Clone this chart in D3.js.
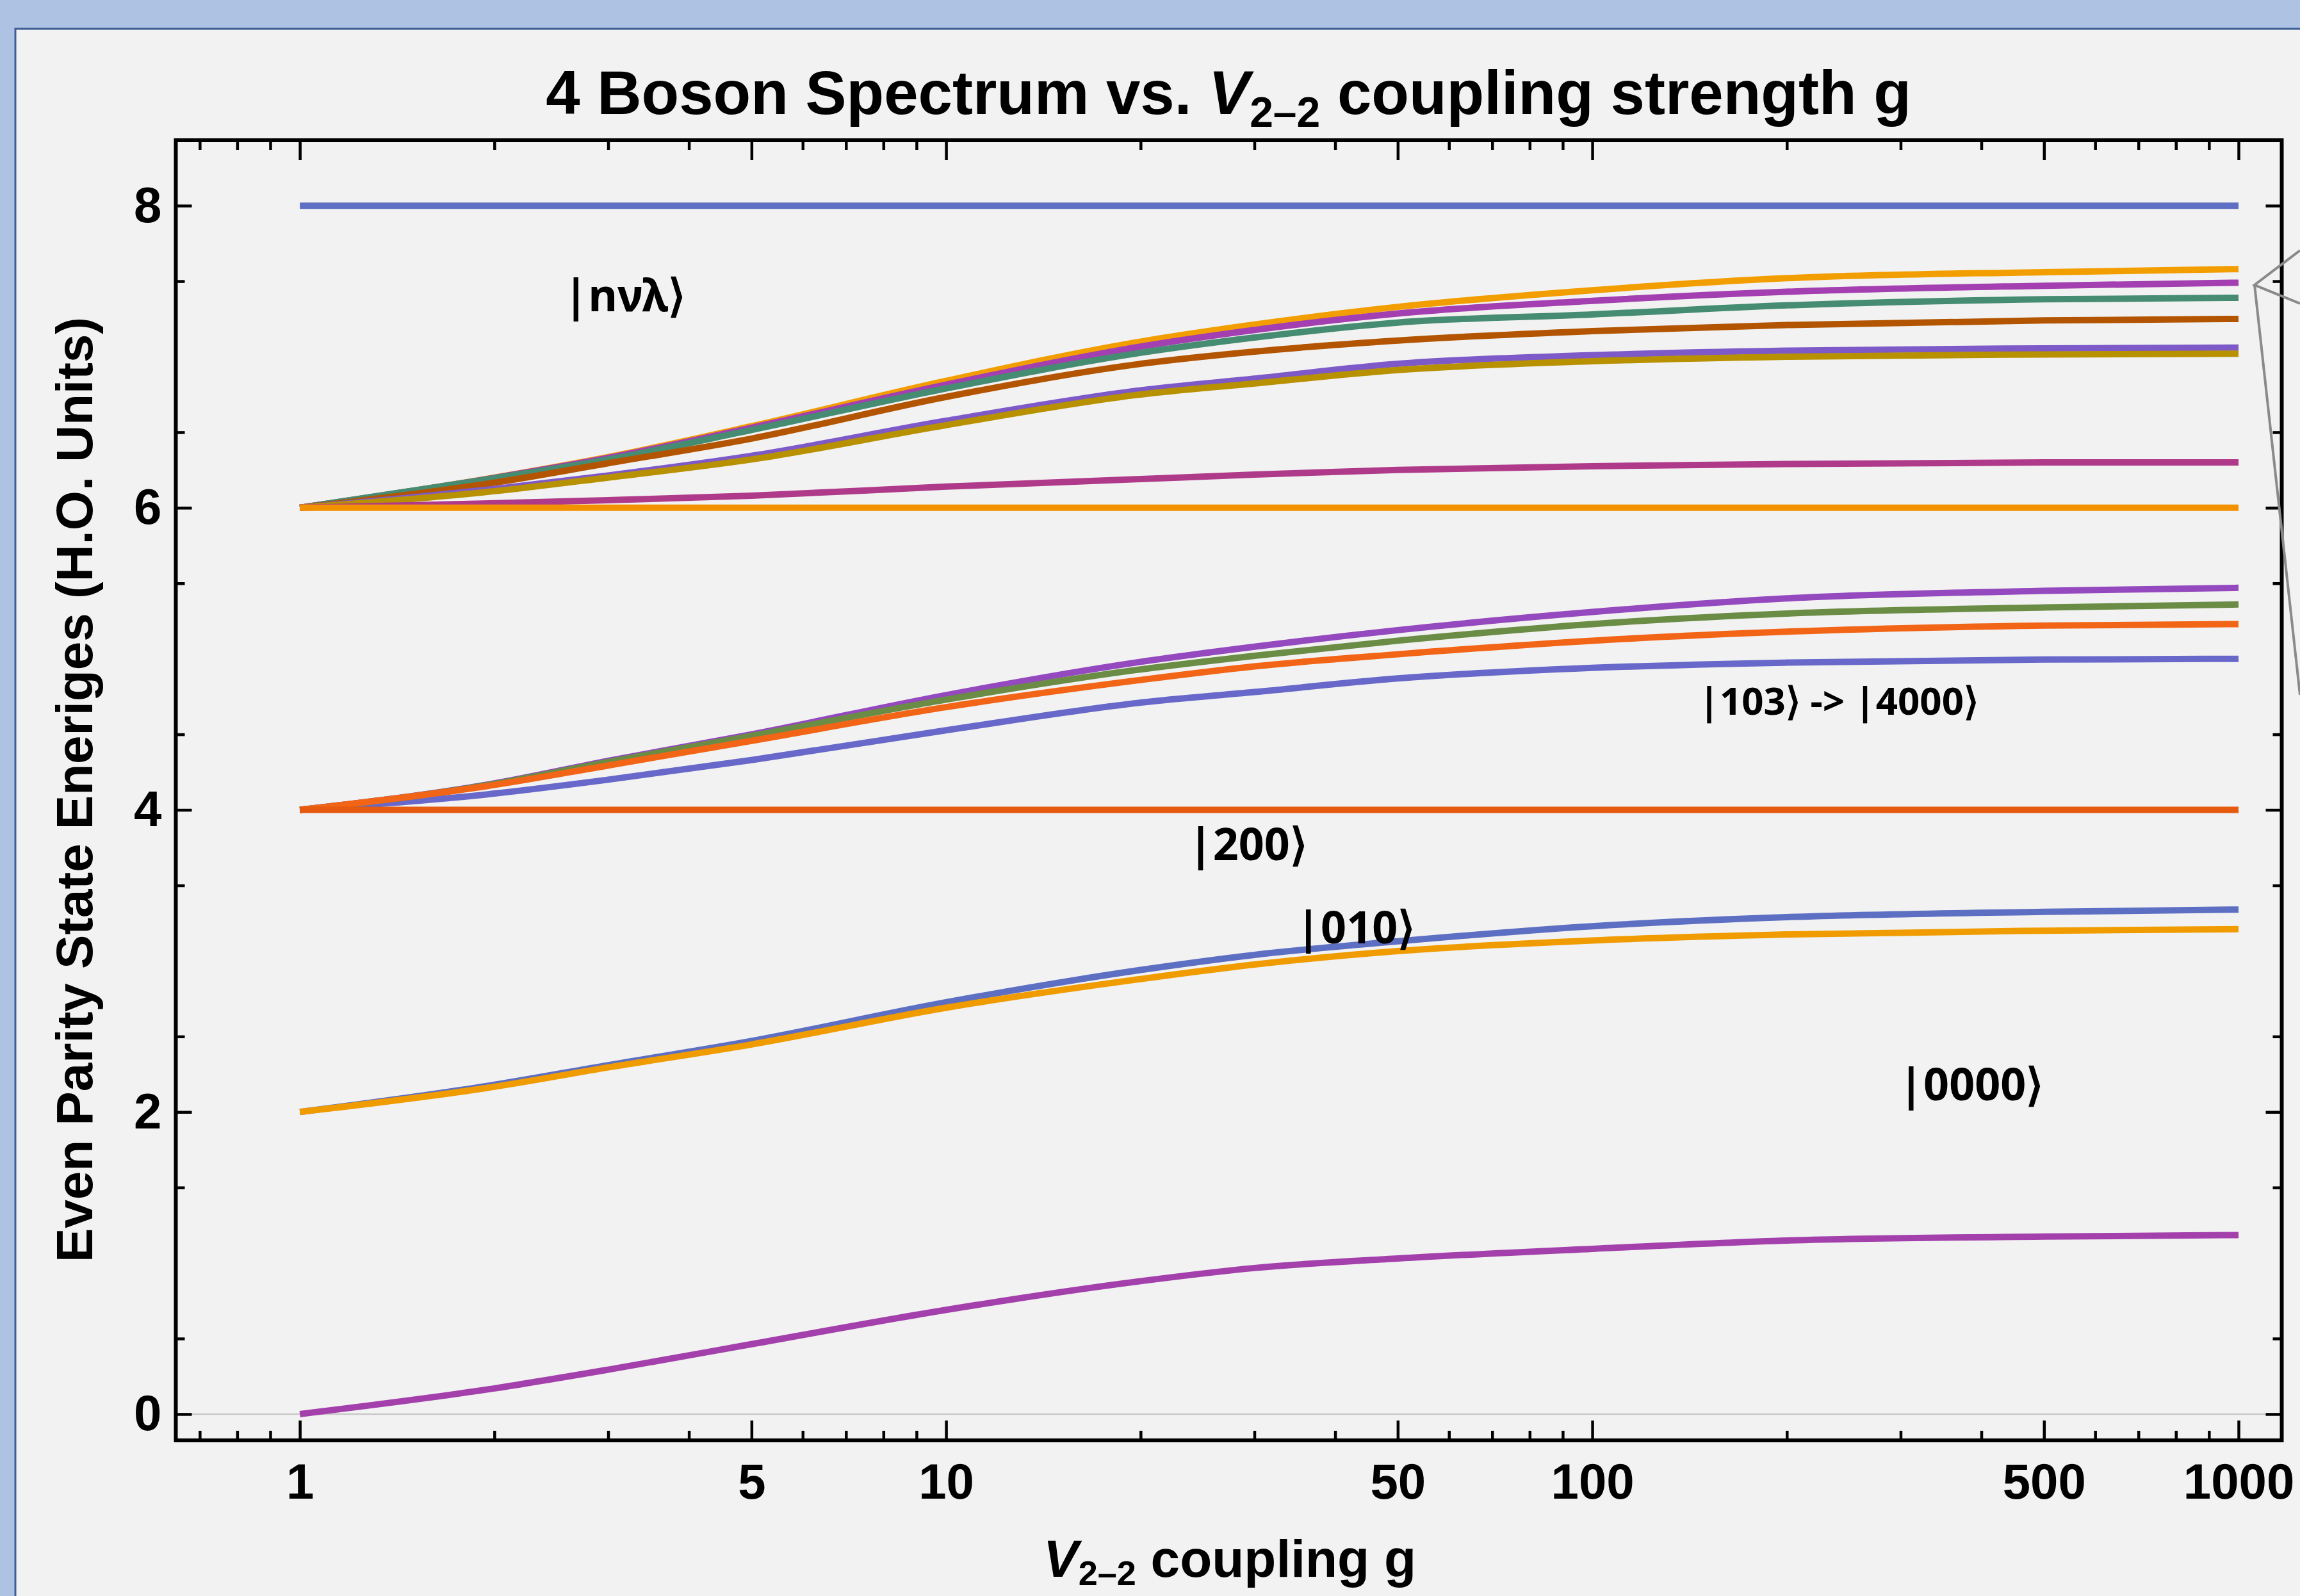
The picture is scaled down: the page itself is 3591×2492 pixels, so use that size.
<!DOCTYPE html>
<html>
<head>
<meta charset="utf-8">
<script src="https://cdn.jsdelivr.net/npm/d3@7"></script>
<style>
	body { margin: 0; background: #aec3e3; }
	svg { display: block; }
</style>
</head>
<body>
<script>
// 4 boson even parity spectrum vs V2-2 coupling g
// values, one array per state

const gSamples = [1, 2, 3, 5, 10, 20, 30, 50, 100, 200, 500, 1000]

const level8   = [8, 8, 8, 8, 8, 8, 8, 8, 8, 8, 8, 8]
const level6a  = [6, 6.20, 6.336, 6.54, 6.84, 7.10, 7.213, 7.33, 7.44, 7.52, 7.56, 7.58]
const level6b  = [6, 6.198, 6.33, 6.53, 6.815, 7.067, 7.177, 7.286, 7.37, 7.43, 7.47, 7.49]
const level6c  = [6, 6.195, 6.32, 6.515, 6.79, 7.026, 7.127, 7.226, 7.28, 7.34, 7.38, 7.39]
const level6d  = [6, 6.166, 6.295, 6.458, 6.734, 6.953, 7.034, 7.107, 7.17, 7.21, 7.24, 7.25]
const level6e  = [6, 6.125, 6.214, 6.344, 6.576, 6.778, 6.855, 6.953, 7.01, 7.04, 7.055, 7.06]
const level6f  = [6, 6.11, 6.20, 6.32, 6.547, 6.75, 6.823, 6.912, 6.97, 7.00, 7.015, 7.02]
const level6g  = [6, 6.03, 6.05, 6.08, 6.14, 6.19, 6.22, 6.25, 6.275, 6.29, 6.30, 6.30]
const level6h  = [6, 6, 6, 6, 6, 6, 6, 6, 6, 6, 6, 6]
const level4a  = [4, 4.175, 4.325, 4.50, 4.76, 4.98, 5.08, 5.19, 5.31, 5.40, 5.45, 5.47]
const level4b  = [4, 4.172, 4.318, 4.49, 4.73, 4.93, 5.02, 5.12, 5.23, 5.30, 5.34, 5.36]
const level4c  = [4, 4.165, 4.294, 4.457, 4.68, 4.86, 4.95, 5.03, 5.12, 5.18, 5.22, 5.23]
const level4d  = [4, 4.108, 4.20, 4.33, 4.527, 4.71, 4.78, 4.87, 4.94, 4.975, 4.995, 5.00]
const level4e  = [4, 4, 4, 4, 4, 4, 4, 4, 4, 4, 4, 4]
const level2a  = [2, 2.18, 2.31, 2.47, 2.726, 2.94, 3.04, 3.13, 3.23, 3.29, 3.325, 3.34]
const level2b  = [2, 2.167, 2.295, 2.447, 2.69, 2.88, 2.976, 3.065, 3.135, 3.175, 3.20, 3.21]
const level0   = [0, 0.17, 0.294, 0.463, 0.69, 0.88, 0.967, 1.03, 1.094, 1.149, 1.175, 1.185]

const levels = [level8, level6a, level6b, level6c, level6d, level6e, level6f, level6g, level6h,
	level4d, level4a, level4b, level4c, level4e, level2a, level2b, level0]
const levelColors = ["#5f6fc4", "#f29e00", "#a33fb0", "#468c72", "#b35500", "#7d5ac8", "#b89100", "#b03a8a", "#f39200",
	"#6768c9", "#9449bf", "#6a8c45", "#f26517", "#e55a0f", "#5d6fc2", "#f09c00", "#a340ac"]

const xTickLabels = [1, 5, 10, 50, 100, 500, 1000]
const yTickLabels = [0, 2, 4, 6, 8]

const stateNames = ["|nνλ⟩", "|103⟩ -> |4000⟩", "|200⟩", "|010⟩", "|0000⟩"]
const stateNameG = [2.56, 146, 23.7, 34.8, 298]
const stateNameE = [7.30, 4.63, 3.667, 3.116, 2.077]

// chart dimensions
const width = 3591
const height = 2492
let dimensions = {
	width: width,
	height: height,
	margin: { top: 219, right: 28.5, bottom: 243, left: 274.5 }
}
dimensions.boundedWidth = dimensions.width - dimensions.margin.left - dimensions.margin.right
dimensions.boundedHeight = dimensions.height - dimensions.margin.top - dimensions.margin.bottom

const svg = d3.select("body")
	.append("svg")
	.attr("width", width)
	.attr("height", height)

// window frame
svg.append("rect")
	.attr("x", 24).attr("y", 45)
	.attr("width", width - 24).attr("height", height - 45)
	.attr("fill", "#f2f2f2")
svg.append("path")
	.attr("d", `M24,${height} V45 H${width}`)
	.attr("fill", "none")
	.attr("stroke", "#3d5d94")
	.attr("stroke-width", 3)

const bounds = svg.append("g")
	.attr("transform", `translate(${dimensions.margin.left},${dimensions.margin.top})`)

// scales
const xScale = d3.scaleLog()
	.domain([0.6428, 1166.5])
	.range([0, dimensions.boundedWidth])

const yScale = d3.scaleLinear()
	.domain([-0.174, 8.433])
	.range([dimensions.boundedHeight, 0])

// light line at zero
bounds.append("line")
	.attr("x1", 0).attr("x2", dimensions.boundedWidth)
	.attr("y1", yScale(0)).attr("y2", yScale(0))
	.attr("stroke", "#c9c9c9")
	.attr("stroke-width", 2.5)

// curves
const lineGen = d3.line()
	.x((d, i) => xScale(gSamples[i]))
	.y(d => yScale(d))
	.curve(d3.curveMonotoneX)

bounds.append("g")
	.selectAll("path")
	.data(levels)
	.join("path")
	.attr("d", lineGen)
	.attr("fill", "none")
	.attr("stroke", (d, i) => levelColors[i])
	.attr("stroke-width", 10)

// ticks
const xMinor = []
;[0.1, 1, 10, 100].forEach(dec => d3.range(1, 10).forEach(m => {
	const v = dec * m
	if (v > 0.6428 && v < 1166.5 && !xTickLabels.includes(+v.toPrecision(3))) xMinor.push(v)
}))
const yMinor = d3.range(0.5, 8.5, 1)

const tickFont = "'Liberation Sans', Arial, sans-serif"

const styleAxis = g => {
	g.select(".domain").remove()
	g.selectAll("line").attr("stroke", "black").attr("stroke-width", 4.5)
	g.selectAll("text")
		.attr("fill", "black")
		.style("font-family", tickFont)
		.style("font-weight", "bold")
		.style("font-size", "78px")
}

bounds.append("g")
	.attr("transform", `translate(0,${dimensions.boundedHeight})`)
	.call(d3.axisBottom(xScale).tickValues(xTickLabels).tickFormat(d3.format("d"))
		.tickSizeInner(-31).tickSizeOuter(0).tickPadding(36))
	.call(styleAxis)
bounds.append("g")
	.attr("transform", `translate(0,${dimensions.boundedHeight})`)
	.call(d3.axisBottom(xScale).tickValues(xMinor).tickFormat("")
		.tickSizeInner(-15).tickSizeOuter(0))
	.call(styleAxis)
bounds.append("g")
	.call(d3.axisTop(xScale).tickValues(xTickLabels).tickFormat("")
		.tickSizeInner(-31).tickSizeOuter(0))
	.call(styleAxis)
bounds.append("g")
	.call(d3.axisTop(xScale).tickValues(xMinor).tickFormat("")
		.tickSizeInner(-15).tickSizeOuter(0))
	.call(styleAxis)

bounds.append("g")
	.call(d3.axisLeft(yScale).tickValues(yTickLabels).tickFormat(d3.format("d"))
		.tickSizeInner(-25).tickSizeOuter(0).tickPadding(22))
	.call(styleAxis)
bounds.append("g")
	.call(d3.axisLeft(yScale).tickValues(yMinor).tickFormat("")
		.tickSizeInner(-14).tickSizeOuter(0))
	.call(styleAxis)
bounds.append("g")
	.attr("transform", `translate(${dimensions.boundedWidth},0)`)
	.call(d3.axisRight(yScale).tickValues(yTickLabels).tickFormat("")
		.tickSizeInner(-25).tickSizeOuter(0))
	.call(styleAxis)
bounds.append("g")
	.attr("transform", `translate(${dimensions.boundedWidth},0)`)
	.call(d3.axisRight(yScale).tickValues(yMinor).tickFormat("")
		.tickSizeInner(-14).tickSizeOuter(0))
	.call(styleAxis)

// frame
bounds.append("rect")
	.attr("width", dimensions.boundedWidth)
	.attr("height", dimensions.boundedHeight)
	.attr("fill", "none")
	.attr("stroke", "black")
	.attr("stroke-width", 6)

// state labels
bounds.append("g")
	.selectAll("text")
	.data(stateNames)
	.join("text")
	.attr("x", (d, i) => xScale(stateNameG[i]))
	.attr("y", (d, i) => yScale(stateNameE[i]))
	.text(d => d)
	.attr("fill", "black")
	.style("font-family", "'Noto Sans', 'Open Sans', sans-serif")
	.style("font-weight", "bold")
	.style("font-size", (d, i) => i === 1 ? "60px" : "70px")

// title with V_{2-2}
const addCoupling = (el, bigSize, subSize, shift) => {
	el.append("tspan").style("font-style", "italic").text("V")
	el.append("tspan").style("font-size", subSize + "px").attr("dy", shift).text("2–2")
	return el.append("tspan").style("font-size", bigSize + "px").attr("dy", -shift)
}

const title = svg.append("text")
	.attr("x", 1918)
	.attr("y", 178)
	.attr("text-anchor", "middle")
	.style("font-family", tickFont)
	.style("font-weight", "bold")
	.style("font-size", "96px")
title.append("tspan").text("4 Boson Spectrum vs. ")
addCoupling(title, 96, 66, 20).text(" coupling strength g")

const xLabel = svg.append("text")
	.attr("x", 1920)
	.attr("y", 2462)
	.attr("text-anchor", "middle")
	.style("font-family", tickFont)
	.style("font-weight", "bold")
	.style("font-size", "82px")
addCoupling(xLabel, 82, 54, 13).text(" coupling g")

svg.append("text")
	.attr("transform", "translate(144,1233) rotate(-90)")
	.attr("text-anchor", "middle")
	.style("font-family", tickFont)
	.style("font-weight", "bold")
	.style("font-size", "80px")
	.text("Even Parity State Eneriges (H.O. Units)")

// grey callout lines leaving the picture on the right
const callout = [[width, 391], [3520, 445], [width, 474]]
svg.append("path")
	.attr("d", d3.line()(callout))
	.attr("fill", "none").attr("stroke", "#8a8a8a").attr("stroke-width", 4)
svg.append("path")
	.attr("d", d3.line()([[3520, 445], [width, 1085]]))
	.attr("fill", "none").attr("stroke", "#8a8a8a").attr("stroke-width", 4)
</script>
</body>
</html>
